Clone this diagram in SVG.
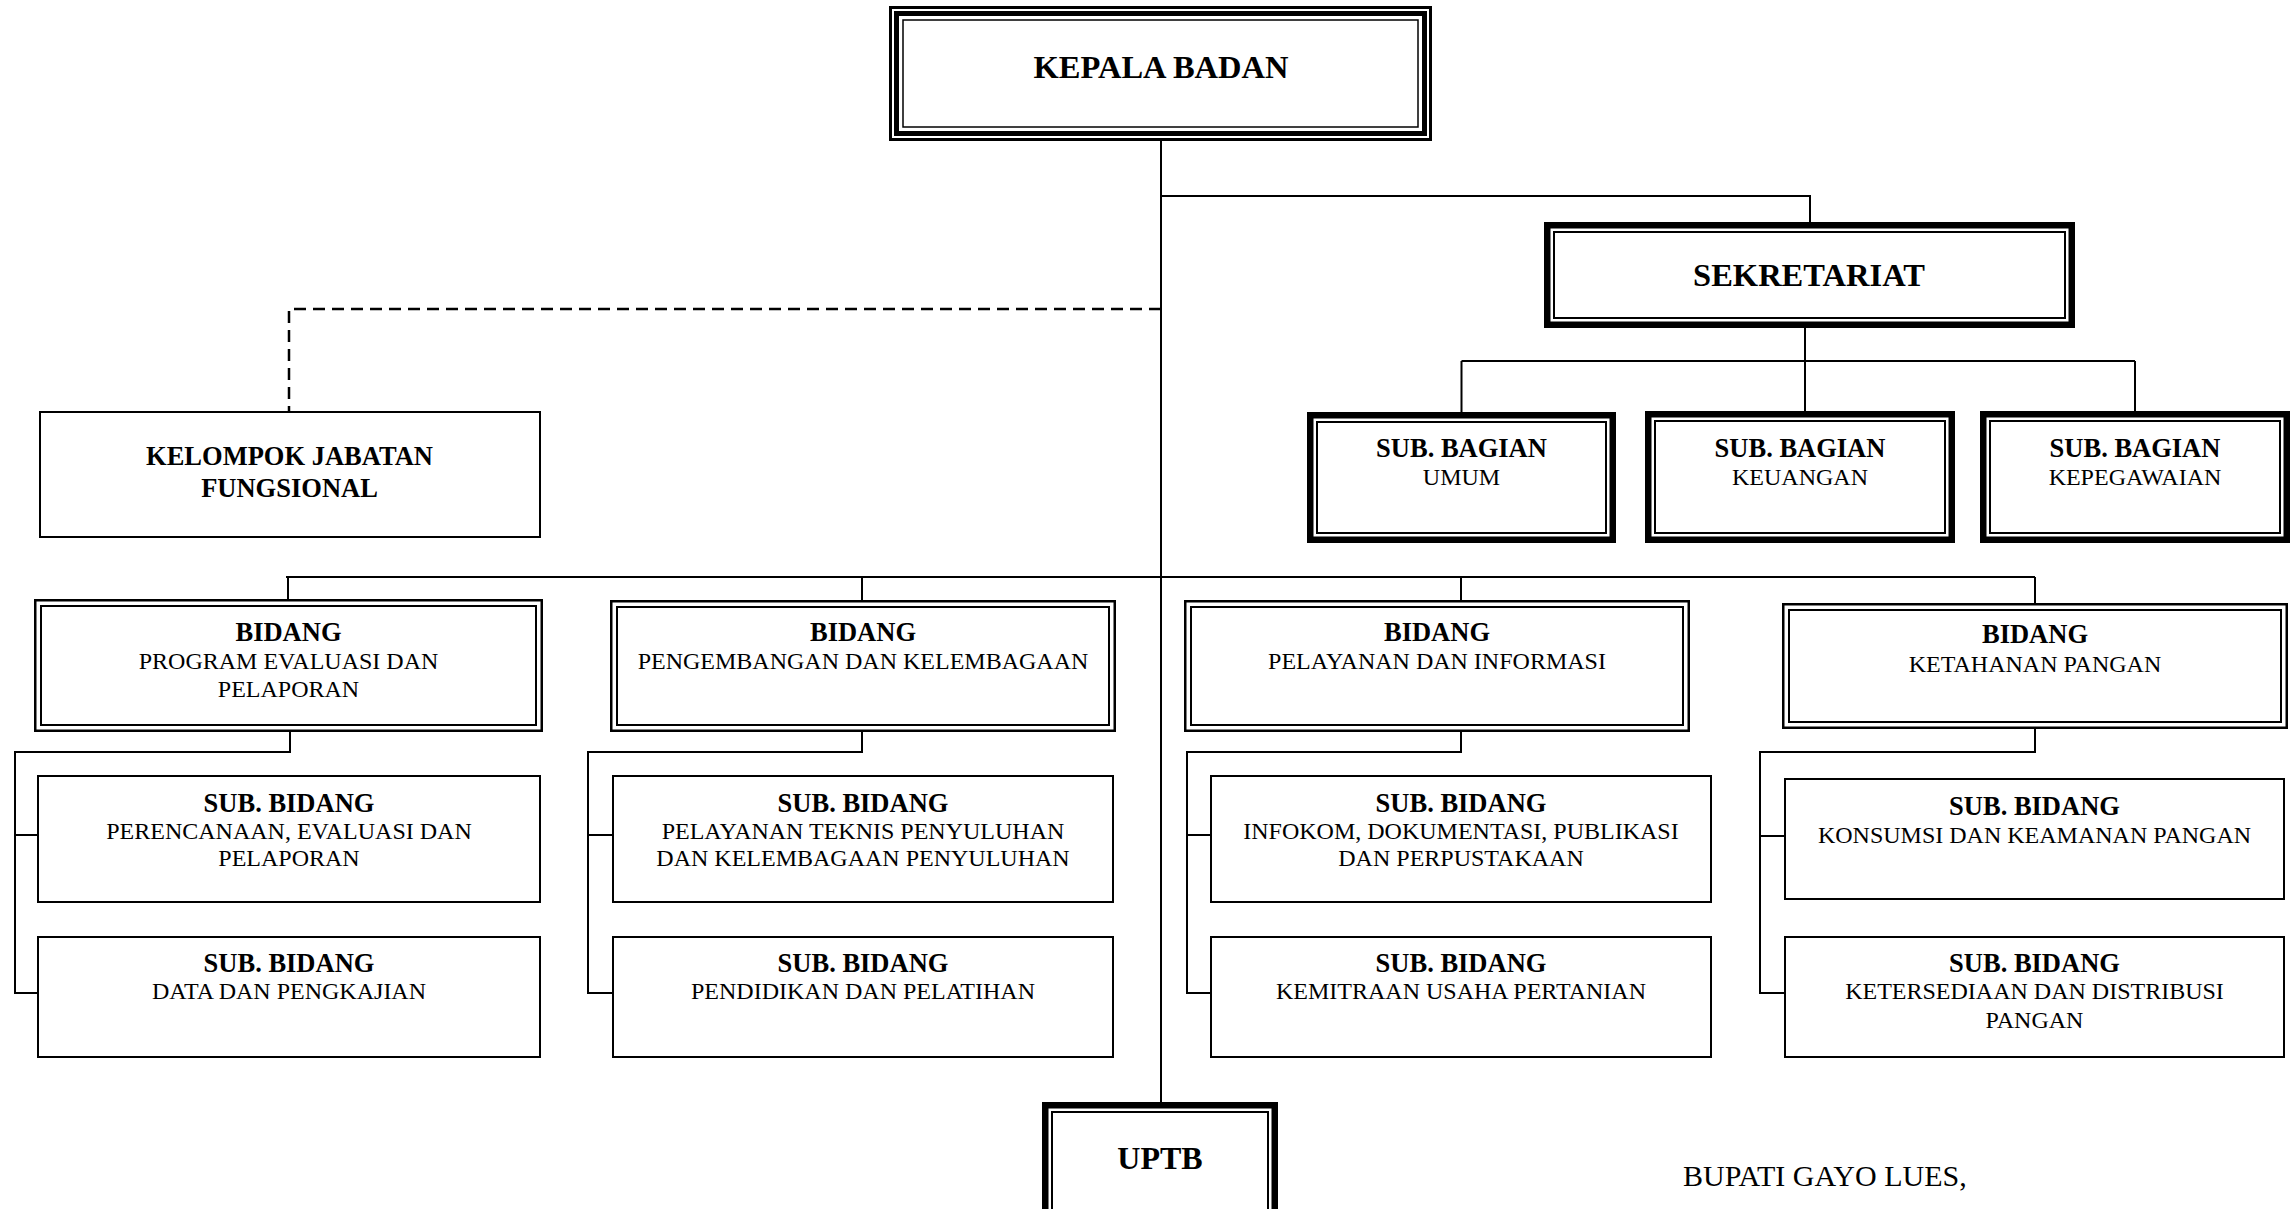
<svg xmlns="http://www.w3.org/2000/svg" width="2295" height="1209" viewBox="0 0 2295 1209">
<style>
.bg{fill:#fff}
.ln{fill:none;stroke:#000;stroke-width:2}
.dash{fill:none;stroke:#000;stroke-width:2.5;stroke-dasharray:12 7}
.box{fill:#fff;stroke:#000;stroke-width:2}
.tk{fill:#fff;stroke:#000;stroke-width:6.5}
.tn{fill:none;stroke:#000;stroke-width:2}
.o3{fill:#fff;stroke:#000;stroke-width:3}
.m5{fill:none;stroke:#000;stroke-width:5}
.i15{fill:none;stroke:#000;stroke-width:1.5}
.d1{fill:#fff;stroke:#000;stroke-width:2.5}
text{font-family:"Liberation Serif","Times New Roman",serif;fill:#000;text-anchor:middle}
.b{font-weight:bold;font-size:26.5px}
.r{font-size:24px}
.big{font-weight:bold;font-size:32.5px}
</style>
<rect class="bg" x="0" y="0" width="2295" height="1209"/>
<g id="connectors">
<path class="ln" d="M1161 141 V1102"/>
<path class="ln" d="M1161 196 H1810 V222"/>
<path class="ln" d="M1805 328 V411 M1461.5 361 H2135 M1461.5 361 V412 M2135 361 V411"/>
<path class="dash" d="M1161 309 H289 V411"/>
<path class="ln" d="M286 577 H2035"/>
<path class="ln" d="M288 577 V599 M862 577 V600 M1461 577 V600 M2035 577 V603"/>
<path class="ln" d="M290 732 V752 H15 V993 H38 M15 835 H38"/>
<path class="ln" d="M862 732 V752 H588 V993 H613 M588 835 H613"/>
<path class="ln" d="M1461 732 V752 H1187 V993 H1211 M1187 835 H1211"/>
<path class="ln" d="M2035 729 V752 H1760 V993 H1785 M1760 836 H1785"/>
</g>
<g id="kepala">
<rect class="o3" x="890.5" y="7.5" width="540" height="132"/>
<rect class="m5" x="896.5" y="13.5" width="528" height="120"/>
<rect class="i15" x="903" y="20" width="515" height="107"/>
<text class="big" x="1161" y="78">KEPALA BADAN</text>
</g>
<g id="sekretariat">
<rect class="tk" x="1547.25" y="225.25" width="524.5" height="99.5"/>
<rect class="tn" x="1554" y="232" width="511" height="86"/>
<text class="big" x="1809" y="286">SEKRETARIAT</text>
</g>
<g id="subbag-umum">
<rect class="tk" x="1310.25" y="415.25" width="302.5" height="124.5"/>
<rect class="tn" x="1317" y="422" width="289" height="111"/>
<text class="b" x="1461.5" y="457">SUB. BAGIAN</text>
<text class="r" x="1461.5" y="485">UMUM</text>
</g>
<g id="subbag-keuangan">
<rect class="tk" x="1648.25" y="414.25" width="303.5" height="125.5"/>
<rect class="tn" x="1655" y="421" width="290" height="112"/>
<text class="b" x="1800" y="457">SUB. BAGIAN</text>
<text class="r" x="1800" y="485">KEUANGAN</text>
</g>
<g id="subbag-kepegawaian">
<rect class="tk" x="1983.25" y="414.25" width="303.5" height="125.5"/>
<rect class="tn" x="1990" y="421" width="290" height="112"/>
<text class="b" x="2135" y="457">SUB. BAGIAN</text>
<text class="r" x="2135" y="485">KEPEGAWAIAN</text>
</g>
<g id="kelompok">
<rect class="box" x="40" y="412" width="500" height="125"/>
<text class="b" x="289.5" y="465">KELOMPOK JABATAN</text>
<text class="b" x="289.5" y="497">FUNGSIONAL</text>
</g>
<g id="bidang-program">
<rect class="d1" x="35.25" y="600.25" width="506.5" height="130.5"/>
<rect class="tn" x="41" y="606" width="495" height="119"/>
<text class="b" x="288.5" y="641">BIDANG</text>
<text class="r" x="288.5" y="669">PROGRAM EVALUASI DAN</text>
<text class="r" x="288.5" y="697">PELAPORAN</text>
</g>
<g id="bidang-pengembangan">
<rect class="d1" x="611.25" y="601.25" width="503.5" height="129.5"/>
<rect class="tn" x="617" y="607" width="492" height="118"/>
<text class="b" x="863" y="641">BIDANG</text>
<text class="r" x="863" y="669">PENGEMBANGAN DAN KELEMBAGAAN</text>
</g>
<g id="bidang-pelayanan">
<rect class="d1" x="1185.25" y="601.25" width="503.5" height="129.5"/>
<rect class="tn" x="1191" y="607" width="492" height="118"/>
<text class="b" x="1437" y="641">BIDANG</text>
<text class="r" x="1437" y="669">PELAYANAN DAN INFORMASI</text>
</g>
<g id="bidang-ketahanan">
<rect class="d1" x="1783.25" y="604.25" width="503.5" height="123.5"/>
<rect class="tn" x="1789" y="610" width="492" height="112"/>
<text class="b" x="2035" y="643">BIDANG</text>
<text class="r" x="2035" y="672">KETAHANAN PANGAN</text>
</g>
<g id="subbid-perencanaan">
<rect class="box" x="38" y="776" width="502" height="126"/>
<text class="b" x="289" y="812">SUB. BIDANG</text>
<text class="r" x="289" y="839">PERENCANAAN, EVALUASI DAN</text>
<text class="r" x="289" y="866">PELAPORAN</text>
</g>
<g id="subbid-data">
<rect class="box" x="38" y="937" width="502" height="120"/>
<text class="b" x="289" y="972">SUB. BIDANG</text>
<text class="r" x="289" y="999">DATA DAN PENGKAJIAN</text>
</g>
<g id="subbid-penyuluhan">
<rect class="box" x="613" y="776" width="500" height="126"/>
<text class="b" x="863" y="812">SUB. BIDANG</text>
<text class="r" x="863" y="839">PELAYANAN TEKNIS PENYULUHAN</text>
<text class="r" x="863" y="866">DAN KELEMBAGAAN PENYULUHAN</text>
</g>
<g id="subbid-pendidikan">
<rect class="box" x="613" y="937" width="500" height="120"/>
<text class="b" x="863" y="972">SUB. BIDANG</text>
<text class="r" x="863" y="999">PENDIDIKAN DAN PELATIHAN</text>
</g>
<g id="subbid-infokom">
<rect class="box" x="1211" y="776" width="500" height="126"/>
<text class="b" x="1461" y="812">SUB. BIDANG</text>
<text class="r" x="1461" y="839">INFOKOM, DOKUMENTASI, PUBLIKASI</text>
<text class="r" x="1461" y="866">DAN PERPUSTAKAAN</text>
</g>
<g id="subbid-kemitraan">
<rect class="box" x="1211" y="937" width="500" height="120"/>
<text class="b" x="1461" y="972">SUB. BIDANG</text>
<text class="r" x="1461" y="999">KEMITRAAN USAHA PERTANIAN</text>
</g>
<g id="subbid-konsumsi">
<rect class="box" x="1785" y="779" width="499" height="120"/>
<text class="b" x="2034.5" y="815">SUB. BIDANG</text>
<text class="r" x="2034.5" y="843">KONSUMSI DAN KEAMANAN PANGAN</text>
</g>
<g id="subbid-ketersediaan">
<rect class="box" x="1785" y="937" width="499" height="120"/>
<text class="b" x="2034.5" y="972">SUB. BIDANG</text>
<text class="r" x="2034.5" y="999">KETERSEDIAAN DAN DISTRIBUSI</text>
<text class="r" x="2034.5" y="1028">PANGAN</text>
</g>
<g id="uptb">
<rect class="tk" x="1045.25" y="1105.25" width="229.5" height="120"/>
<rect class="tn" x="1052" y="1112" width="216" height="120"/>
<text class="big" x="1160" y="1169" style="font-size:32px">UPTB</text>
</g>
<text style="font-size:30px;text-anchor:start" x="1683" y="1186">BUPATI GAYO LUES,</text>
</svg>
